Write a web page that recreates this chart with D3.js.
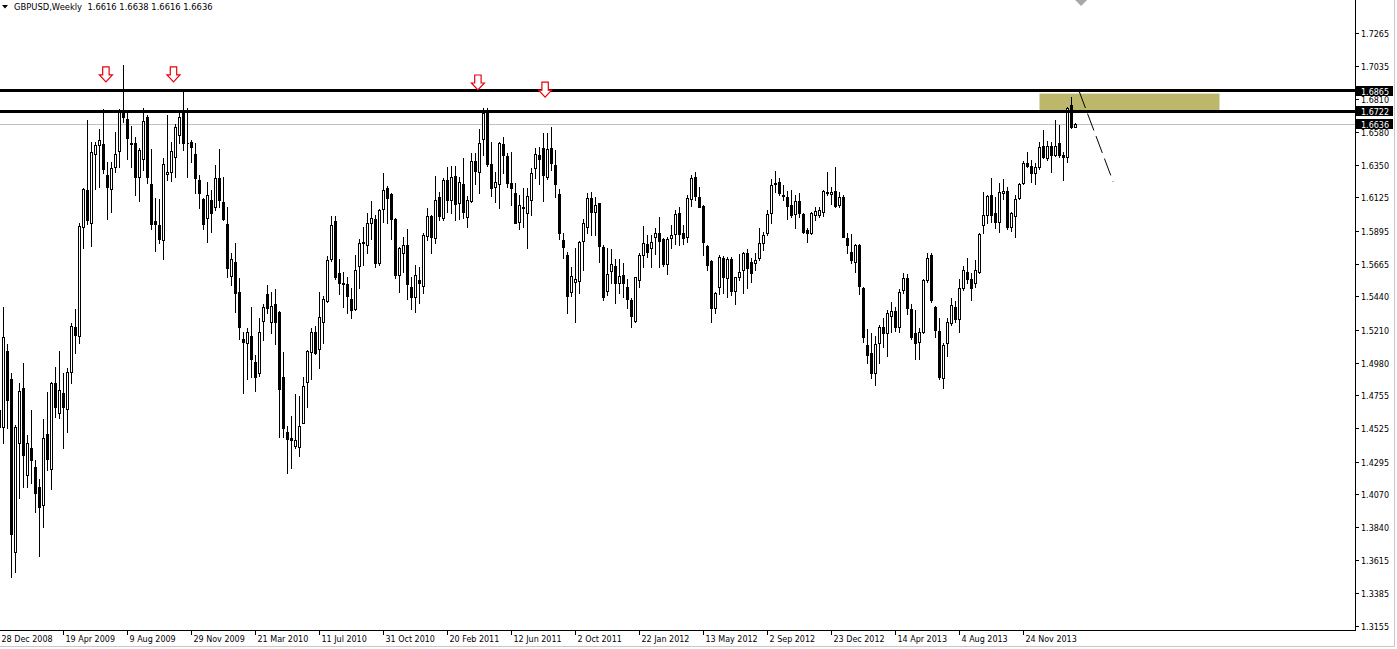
<!DOCTYPE html>
<html><head><meta charset="utf-8">
<script src="https://cdn.jsdelivr.net/npm/d3@7/dist/d3.min.js"></script>
<style>
html,body{margin:0;padding:0;background:#fff;overflow:hidden;}
svg{display:block;}
text{font-family:"DejaVu Sans",Verdana,sans-serif;}
</style></head><body>
<svg id="c" width="1397" height="649"></svg>
<script>
// ---- data: GBPUSD weekly candles, first week = 28 Dec 2008 ----
const symbolTitle = "GBPUSD,Weekly";
const headerOHLC = [1.6616, 1.6638, 1.6616, 1.6636];

const opens = [
1.4653,1.4537,1.5062,1.4868,1.3671,1.4426,1.4803,1.4202,1.4387,1.4260,
1.4117,1.3994,1.4486,1.4242,1.4838,1.4630,1.4773,1.4658,1.4914,1.5230,
1.5166,1.5923,1.6177,1.5947,1.6425,1.6491,1.6494,1.6281,1.6182,1.6335,
1.6448,1.6709,1.6667,1.6505,1.6501,1.6265,1.6390,1.6681,1.6219,1.5962,
1.5935,1.5831,1.6288,1.6300,1.6404,1.6558,1.6720,1.6505,1.6512,1.6425,
1.6247,1.6113,1.5981,1.6108,1.6062,1.6258,1.6092,1.5942,1.5581,1.5680,
1.5468,1.5143,1.5119,1.5166,1.4987,1.4907,1.5272,1.5455,1.5265,1.5385,
1.5334,1.4879,1.4502,1.4457,1.4403,1.4398,1.4565,1.4849,1.5057,1.5191,
1.5073,1.5265,1.5410,1.5697,1.5962,1.5600,1.5535,1.5524,1.5420,1.5351,
1.5651,1.5819,1.5796,1.5947,1.5974,1.5669,1.6046,1.6189,1.6148,1.5974,
1.5588,1.5743,1.5796,1.5507,1.5434,1.5554,1.5514,1.5859,1.5997,1.5843,
1.6127,1.5981,1.6247,1.6108,1.6274,1.6085,1.6219,1.5992,1.6103,1.6380,
1.6304,1.6529,1.6732,1.6357,1.6200,1.6217,1.6496,1.6413,1.6228,1.6159,
1.5958,1.6060,1.6016,1.6108,1.6328,1.6420,1.6470,1.6269,1.6466,1.6351,
1.6150,1.5831,1.5727,1.5473,1.5542,1.5549,1.5826,1.5923,1.6120,1.6027,
1.6085,1.5784,1.5479,1.5618,1.5651,1.5535,1.5588,1.5507,1.5415,1.5272,
1.5554,1.5727,1.5803,1.5773,1.5854,1.5881,1.5836,1.5664,1.5843,1.5870,
1.6016,1.5881,1.5850,1.6113,1.6265,1.6131,1.6066,1.5789,1.5687,1.5357,
1.5503,1.5704,1.5565,1.5697,1.5479,1.5572,1.5623,1.5743,1.5680,1.5669,
1.5704,1.5812,1.5877,1.6016,1.6228,1.6235,1.6143,1.6131,1.6073,1.6009,
1.6103,1.6009,1.5900,1.5881,1.6004,1.6004,1.6027,1.6159,1.6150,1.6170,
1.6073,1.6131,1.5843,1.5750,1.5680,1.5796,1.5496,1.5100,1.5046,1.4911,
1.5115,1.5230,1.5184,1.5304,1.5341,1.5226,1.5484,1.5565,1.5351,1.5184,
1.5126,1.5195,1.5554,1.5727,1.5364,1.5202,1.4872,1.5115,1.5254,1.5369,
1.5281,1.5496,1.5611,1.5558,1.5531,1.5611,1.5935,1.6004,1.6143,1.6020,
1.5958,1.6154,1.6170,1.5919,1.5997,1.6120,1.6224,1.6362,1.6344,1.6293,
1.6335,1.6482,1.6397,1.6482,1.6420,1.6501,1.6420,1.6404,1.6766,1.6616];

const highs = [
1.4722,1.5369,1.5110,1.4907,1.4549,1.4842,1.4981,1.4479,1.4653,1.4306,
1.4172,1.4588,1.4780,1.4849,1.4953,1.5062,1.4907,1.4942,1.5254,1.5351,
1.5947,1.6193,1.6662,1.6508,1.6512,1.6598,1.6739,1.6373,1.6373,1.6577,
1.6737,1.7044,1.6709,1.6623,1.6547,1.6467,1.6743,1.6697,1.6459,1.6120,
1.6113,1.6397,1.6697,1.6512,1.6633,1.6732,1.6875,1.6743,1.6524,1.6501,
1.6281,1.6120,1.6235,1.6177,1.6351,1.6459,1.6269,1.6062,1.5743,1.5812,
1.5565,1.5195,1.5219,1.5369,1.5034,1.5288,1.5387,1.5519,1.5473,1.5489,
1.5340,1.5057,1.4542,1.4611,1.4764,1.4750,1.4879,1.5069,1.5219,1.5235,
1.5473,1.5443,1.5720,1.5997,1.5997,1.5697,1.5611,1.5576,1.5496,1.5727,
1.5836,1.5923,1.6016,1.6101,1.6004,1.6045,1.6293,1.6205,1.6155,1.5981,
1.5784,1.5854,1.5905,1.5576,1.5658,1.5646,1.5881,1.6050,1.6004,1.6274,
1.6166,1.6258,1.6339,1.6344,1.6344,1.6265,1.6397,1.6136,1.6432,1.6436,
1.6598,1.6743,1.6743,1.6512,1.6304,1.6512,1.6547,1.6436,1.6443,1.6228,
1.6143,1.6189,1.6189,1.6328,1.6466,1.6477,1.6570,1.6570,1.6616,1.6454,
1.6182,1.5877,1.5750,1.5646,1.5773,1.5826,1.5974,1.6159,1.6166,1.6127,
1.6089,1.5796,1.5773,1.5766,1.5697,1.5697,1.5669,1.5558,1.5427,1.5577,
1.5739,1.5928,1.5865,1.5865,1.5912,1.5988,1.5843,1.5854,1.5935,1.6039,
1.6057,1.5935,1.6143,1.6281,1.6304,1.6200,1.6073,1.5796,1.5692,1.5473,
1.5727,1.5720,1.5715,1.5715,1.5577,1.5734,1.5750,1.5766,1.5704,1.5739,
1.5912,1.5888,1.6039,1.6251,1.6311,1.6258,1.6212,1.6172,1.6177,1.6143,
1.6154,1.6016,1.5912,1.6027,1.6062,1.6062,1.6177,1.6304,1.6200,1.6335,
1.6166,1.6143,1.5877,1.5872,1.5803,1.5803,1.5503,1.5212,1.5188,1.5166,
1.5242,1.5288,1.5346,1.5403,1.5369,1.5489,1.5604,1.5595,1.5387,1.5346,
1.5219,1.5558,1.5739,1.5743,1.5373,1.5288,1.5115,1.5288,1.5427,1.5410,
1.5558,1.5651,1.5704,1.5600,1.5692,1.5877,1.6166,1.6143,1.6258,1.6127,
1.6224,1.6251,1.6200,1.6027,1.6143,1.6224,1.6380,1.6443,1.6385,1.6367,
1.6512,1.6593,1.6519,1.6512,1.6662,1.6628,1.6443,1.6750,1.6824,1.6638];

const lows = [
1.4445,1.4422,1.4526,1.3498,1.3532,1.4041,1.4121,1.4121,1.4145,1.3948,
1.3643,1.3840,1.4237,1.4103,1.4606,1.4595,1.4387,1.4502,1.4838,1.5050,
1.5115,1.5773,1.5940,1.5791,1.6182,1.6200,1.6293,1.5974,1.6027,1.6304,
1.6339,1.6651,1.6390,1.6335,1.6143,1.6103,1.6316,1.6224,1.5905,1.5757,
1.5812,1.5697,1.6247,1.6242,1.6265,1.6501,1.6454,1.6265,1.6373,1.6159,
1.6050,1.5905,1.5819,1.5888,1.6039,1.6062,1.5969,1.5576,1.5519,1.5334,
1.5143,1.4768,1.4865,1.4879,1.4786,1.4888,1.5138,1.5323,1.5184,1.5110,
1.4468,1.4468,1.4218,1.4249,1.4387,1.4334,1.4561,1.4676,1.4865,1.5041,
1.4942,1.5115,1.5403,1.5687,1.5558,1.5457,1.5364,1.5327,1.5288,1.5346,
1.5496,1.5658,1.5743,1.5836,1.5646,1.5658,1.5958,1.5947,1.5836,1.5565,
1.5473,1.5611,1.5420,1.5351,1.5334,1.5396,1.5466,1.5831,1.5743,1.5812,
1.5969,1.5969,1.6027,1.6020,1.5969,1.5974,1.5981,1.5923,1.6096,1.6219,
1.6159,1.6420,1.6344,1.6136,1.6096,1.6050,1.6297,1.6200,1.6073,1.5947,
1.5905,1.5923,1.5773,1.6004,1.6258,1.6219,1.6103,1.6251,1.6316,1.6127,
1.5836,1.5704,1.5323,1.5443,1.5265,1.5461,1.5623,1.5877,1.5865,1.5865,
1.5680,1.5415,1.5450,1.5531,1.5396,1.5461,1.5434,1.5357,1.5230,1.5265,
1.5507,1.5646,1.5711,1.5642,1.5734,1.5642,1.5651,1.5595,1.5773,1.5803,
1.5796,1.5803,1.5819,1.6066,1.6108,1.6057,1.5727,1.5623,1.5265,1.5323,
1.5457,1.5461,1.5438,1.5450,1.5387,1.5554,1.5461,1.5496,1.5542,1.5623,
1.5692,1.5761,1.5865,1.5951,1.6166,1.6143,1.6108,1.5974,1.5992,1.5912,
1.5992,1.5881,1.5819,1.5872,1.5969,1.5988,1.5997,1.6143,1.6080,1.6057,
1.6057,1.5850,1.5739,1.5669,1.5611,1.5457,1.5126,1.4981,1.4872,1.4826,
1.4981,1.5091,1.5027,1.5195,1.5202,1.5195,1.5461,1.5318,1.5143,1.5004,
1.5004,1.5188,1.5542,1.5403,1.5157,1.4865,1.4803,1.5027,1.5242,1.5265,
1.5195,1.5484,1.5535,1.5415,1.5503,1.5604,1.5881,1.5947,1.5958,1.5912,
1.5888,1.6113,1.5905,1.5895,1.5850,1.6113,1.6219,1.6335,1.6235,1.6219,
1.6321,1.6397,1.6385,1.6304,1.6413,1.6404,1.6247,1.6373,1.6610,1.6616];

const closes = [
1.4535,1.5161,1.4722,1.3791,1.4537,1.4784,1.4341,1.4422,1.4306,1.4080,
1.3983,1.4457,1.4311,1.4838,1.4671,1.4791,1.4671,1.4914,1.5237,1.5172,
1.5928,1.6184,1.5969,1.6439,1.6489,1.6524,1.6323,1.6200,1.6328,1.6425,
1.6732,1.6681,1.6536,1.6496,1.6265,1.6454,1.6655,1.6265,1.5940,1.5940,
1.5836,1.6355,1.6300,1.6448,1.6612,1.6681,1.6501,1.6501,1.6473,1.6258,
1.6154,1.5940,1.6143,1.6016,1.6258,1.6108,1.5974,1.5635,1.5697,1.5461,
1.5226,1.5126,1.5195,1.5004,1.4883,1.5195,1.5364,1.5357,1.5373,1.5265,
1.4796,1.4526,1.4450,1.4445,1.4445,1.4542,1.4819,1.5062,1.5191,1.5046,
1.5295,1.5420,1.5692,1.5935,1.5576,1.5531,1.5524,1.5443,1.5346,1.5623,
1.5812,1.5812,1.5951,1.5981,1.5673,1.6039,1.6177,1.6120,1.5974,1.5588,
1.5773,1.5796,1.5524,1.5438,1.5588,1.5535,1.5865,1.5997,1.5854,1.6108,
1.5997,1.6247,1.6108,1.6265,1.6078,1.6235,1.6027,1.6108,1.6380,1.6311,
1.6501,1.6709,1.6357,1.6189,1.6231,1.6505,1.6420,1.6224,1.6189,1.5951,
1.6073,1.6050,1.6136,1.6293,1.6425,1.6390,1.6281,1.6461,1.6362,1.6217,
1.5877,1.5784,1.5443,1.5581,1.5561,1.5815,1.5947,1.6120,1.6027,1.6073,
1.5789,1.5434,1.5595,1.5664,1.5535,1.5581,1.5535,1.5420,1.5304,1.5572,
1.5727,1.5808,1.5750,1.5819,1.5877,1.5826,1.5664,1.5836,1.5865,1.6009,
1.5870,1.5843,1.6120,1.6258,1.6136,1.6062,1.5815,1.5658,1.5357,1.5466,
1.5715,1.5576,1.5697,1.5479,1.5572,1.5611,1.5739,1.5635,1.5604,1.5692,
1.5812,1.5865,1.6009,1.6212,1.6219,1.6159,1.6134,1.6066,1.6004,1.6101,
1.6016,1.5888,1.5877,1.6020,1.6032,1.6039,1.6170,1.6166,1.6166,1.6066,
1.6131,1.5854,1.5796,1.5692,1.5796,1.5512,1.5157,1.5030,1.4911,1.5110,
1.5230,1.5188,1.5327,1.5341,1.5226,1.5473,1.5565,1.5357,1.5161,1.5119,
1.5195,1.5554,1.5704,1.5415,1.5207,1.4879,1.5103,1.5265,1.5380,1.5281,
1.5496,1.5623,1.5558,1.5496,1.5623,1.5872,1.6004,1.6136,1.6004,1.5958,
1.6166,1.6172,1.5919,1.6016,1.6115,1.6219,1.6362,1.6344,1.6293,1.6335,
1.6477,1.6404,1.6482,1.6420,1.6482,1.6420,1.6404,1.6743,1.6612,1.6636];

// time axis labels (week index from 28 Dec 2008)
const dateTickIndex = [0,16,32,48,64,80,96,112,128,144,160,176,192,208,224,240,256];
const dateTickLabels = ["28 Dec 2008","19 Apr 2009","9 Aug 2009","29 Nov 2009","21 Mar 2010",
  "11 Jul 2010","31 Oct 2010","20 Feb 2011","12 Jun 2011","2 Oct 2011","22 Jan 2012",
  "13 May 2012","2 Sep 2012","23 Dec 2012","14 Apr 2013","4 Aug 2013","24 Nov 2013"];
const priceTicks = [1.7265,1.7035,1.6810,1.6580,1.6350,1.6125,1.5895,1.5665,1.5440,1.5210,
  1.4980,1.4755,1.4525,1.4295,1.4070,1.3840,1.3615,1.3385,1.3155];

// chart objects
const levelLines = [1.6865, 1.6722];
const bidPrice = 1.6636;
const zoneIndex = [260, 305];
const zonePrice = [1.6845, 1.6722];
const trendIndex = [269.9, 278.4];
const trendPrice = [1.6862, 1.6235];
const arrowIndex = [26.6, 43.5, 119.6, 136.4];
const arrowPrice = [1.6926, 1.6926, 1.6870, 1.6820];
const markerIndex = [270.4];
const markerPrice = [1.7494];

// ---- drawing ----
const svg = d3.select("#c");
const plotR = 1355, plotB = 630;
const x = d3.scaleLinear().domain([0, 269]).range([-0.5, 1075.5]);
const y = d3.scaleLinear().domain([1.3155, 1.7265]).range([626, 33]);

const n = Math.min(opens.length, highs.length, lows.length, closes.length);
const candles = d3.range(n).map(i => ({i, o: opens[i], h: highs[i], l: lows[i], c: closes[i]}));

svg.append("rect").attr("width",1397).attr("height",649).attr("fill","#fff");

const defs = svg.append("defs");
defs.append("clipPath").attr("id","plot").append("rect")
  .attr("x",0).attr("y",0).attr("width",plotR).attr("height",plotB);

const g = svg.append("g").attr("clip-path","url(#plot)");

// zone rectangle
g.append("rect")
  .attr("x", x(zoneIndex[0])).attr("width", x(zoneIndex[1]) - x(zoneIndex[0]))
  .attr("y", y(zonePrice[0])).attr("height", y(zonePrice[1]) - y(zonePrice[0]))
  .attr("fill", "#bdb76b");

// bid line
g.append("line").attr("x1",0).attr("x2",plotR)
  .attr("y1", Math.round(y(bidPrice)) + 0.5).attr("y2", Math.round(y(bidPrice)) + 0.5)
  .attr("stroke","#c0c0c0").attr("shape-rendering","crispEdges");

// candles
const cg = g.append("g").attr("shape-rendering","crispEdges");
cg.selectAll("line.w").data(candles).join("line").attr("class","w")
  .attr("x1", d => x(d.i)).attr("x2", d => x(d.i))
  .attr("y1", d => Math.round(y(d.h))).attr("y2", d => Math.round(y(d.l)) + 1)
  .attr("stroke","#000");
cg.selectAll("path.b").data(candles).join("path").attr("class","b")
  .attr("d", d => {
    const t = Math.round(y(Math.max(d.o, d.c))), b = Math.round(y(Math.min(d.o, d.c)));
    const cx = x(d.i);
    return `M${cx-1},${t+0.5}H${cx+1}V${b+0.5}H${cx-1}Z`;
  })
  .attr("fill", d => d.c >= d.o ? "#fff" : "#000")
  .attr("stroke","#000");

// level lines
g.selectAll("line.lvl").data(levelLines).join("line").attr("class","lvl")
  .attr("x1",0).attr("x2",plotR)
  .attr("y1", d => Math.floor(y(d)) + 0.5).attr("y2", d => Math.floor(y(d)) + 0.5)
  .attr("stroke","#000").attr("stroke-width",3);

// dashed trend line
g.append("line")
  .attr("x1", x(trendIndex[0])).attr("y1", y(trendPrice[0]))
  .attr("x2", x(trendIndex[1])).attr("y2", y(trendPrice[1]))
  .attr("stroke","#000").attr("stroke-width",1).attr("stroke-dasharray","18,6");

// arrows
g.selectAll("path.arr").data(d3.range(arrowIndex.length)).join("path").attr("class","arr")
  .attr("d", k => {
    const cx = x(arrowIndex[k]), ty = y(arrowPrice[k]);
    return `M${cx-3.2},${ty-15}H${cx+3.2}V${ty-7}H${cx+6.5}L${cx},${ty}L${cx-6.5},${ty-7}H${cx-3.2}Z`;
  })
  .attr("fill","#fff").attr("stroke","#e8000b").attr("stroke-width",1.2)
  .attr("stroke-linejoin","miter");

// top grey marker
g.selectAll("path.mk").data(markerIndex).join("path").attr("class","mk")
  .attr("d", (d,k) => {
    const cx = x(d), cy = y(markerPrice[k]);
    return `M${cx},${cy-6}L${cx+6},${cy}L${cx},${cy+6}L${cx-6},${cy}Z`;
  })
  .attr("fill","#a8a8a8");

// axes lines
const ax = svg.append("g").attr("shape-rendering","crispEdges");
ax.append("line").attr("x1",plotR+0.5).attr("x2",plotR+0.5).attr("y1",0).attr("y2",plotB+1).attr("stroke","#000");
ax.append("line").attr("x1",0).attr("x2",plotR+1).attr("y1",plotB+0.5).attr("y2",plotB+0.5).attr("stroke","#000");

// price axis
const pa = svg.append("g");
pa.selectAll("line.pt").data(priceTicks).join("line").attr("class","pt")
  .attr("x1",plotR+1).attr("x2",plotR+4)
  .attr("y1", d => Math.round(y(d)) + 0.5).attr("y2", d => Math.round(y(d)) + 0.5)
  .attr("stroke","#000").attr("shape-rendering","crispEdges");
pa.selectAll("text.pl").data(priceTicks).join("text").attr("class","pl")
  .attr("x", plotR + 6).attr("y", d => Math.round(y(d)) + 3.5)
  .attr("font-size", "8px").attr("fill","#000")
  .text(d => d.toFixed(4));

// price tags
const tags = levelLines.concat([bidPrice]);
pa.selectAll("rect.tag").data(tags).join("rect").attr("class","tag")
  .attr("x", plotR + 1).attr("width", 37)
  .attr("y", d => Math.round(y(d)) - 5).attr("height", 10)
  .attr("fill","#000");
pa.selectAll("text.tagt").data(tags).join("text").attr("class","tagt")
  .attr("x", plotR + 6).attr("y", d => Math.round(y(d)) + 3.5)
  .attr("font-size","8px").attr("fill","#fff")
  .text(d => d.toFixed(4));

// time axis
const ta = svg.append("g");
ta.selectAll("line.tt").data(dateTickIndex).join("line").attr("class","tt")
  .attr("x1", d => x(d)).attr("x2", d => x(d)).attr("y1", plotB + 1).attr("y2", plotB + 5)
  .attr("stroke","#000").attr("shape-rendering","crispEdges");
ta.selectAll("text.tl").data(dateTickIndex).join("text").attr("class","tl")
  .attr("x", d => x(d) + 2).attr("y", plotB + 12)
  .attr("font-size","8px").attr("fill","#000")
  .text((d,k) => dateTickLabels[k]);

// outer frame (light grey)
svg.append("line").attr("x1",1394.5).attr("x2",1394.5).attr("y1",0).attr("y2",647)
  .attr("stroke","#c8c8c8").attr("shape-rendering","crispEdges");
svg.append("line").attr("x1",0).attr("x2",1395).attr("y1",646.5).attr("y2",646.5)
  .attr("stroke","#c8c8c8").attr("shape-rendering","crispEdges");

// header
svg.append("path").attr("d","M2,5H8L5,8.5Z").attr("fill","#000");
svg.append("text").attr("x",14).attr("y",10).attr("font-size","8.4px").attr("fill","#000")
  .attr("xml:space","preserve").style("white-space","pre")
  .text(symbolTitle + "  " + headerOHLC.map(v => v.toFixed(4)).join(" "));
</script>
</body></html>
